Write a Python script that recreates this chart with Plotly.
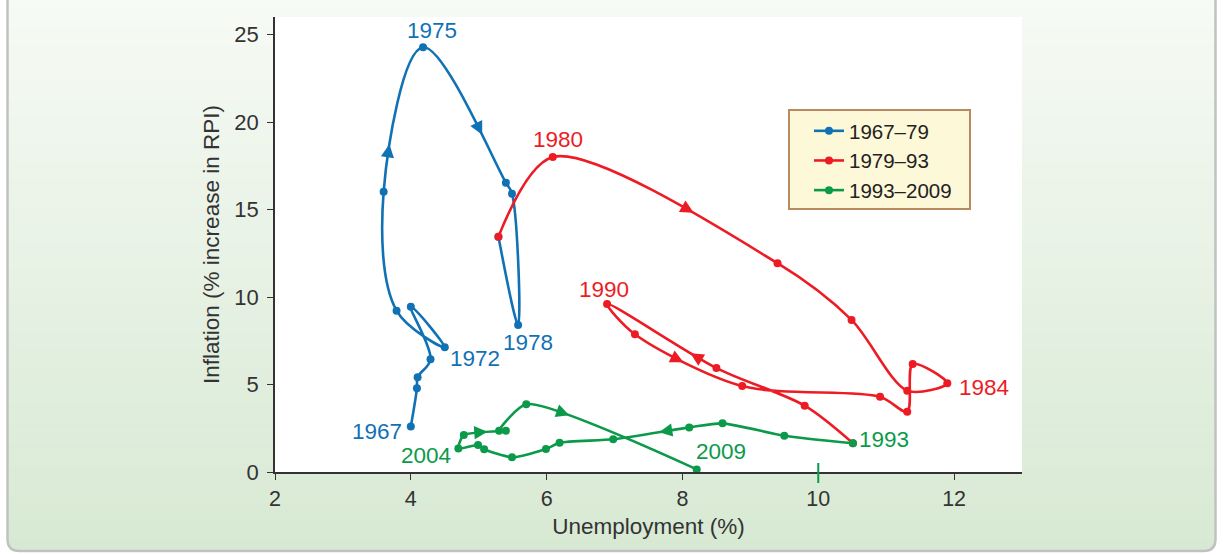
import plotly.graph_objects as go

# ---------------- data: unemployment (%) vs inflation (% increase in RPI) ----------------
unemp_6779 = [4.0, 4.09, 4.1, 4.29, 4.0, 4.5, 3.79, 3.6, 4.18, 5.4, 5.49, 5.58, 5.29]
infl_6779 = [2.6, 4.78, 5.41, 6.44, 9.45, 7.13, 9.22, 16.02, 24.27, 16.53, 15.9, 8.4, 13.45]

unemp_7993 = [5.29, 6.09, 9.4, 10.49, 11.31, 11.9, 11.39, 11.31, 10.91, 8.88, 7.3, 6.89, 8.5, 9.8, 10.51]
infl_7993 = [13.45, 18.0, 11.93, 8.69, 4.65, 5.07, 6.17, 3.45, 4.3, 4.91, 7.87, 9.6, 5.94, 3.79, 1.64]

unemp_9309 = [10.51, 9.5, 8.59, 8.1, 6.98, 6.19, 5.99, 5.49, 5.08, 4.99, 4.7, 4.78, 5.4, 5.3, 5.7, 8.21]
infl_9309 = [1.64, 2.07, 2.78, 2.55, 1.87, 1.67, 1.31, 0.84, 1.3, 1.54, 1.35, 2.11, 2.36, 2.36, 3.87, 0.15]

series_names = ["1967–79", "1979–93", "1993–2009"]
series_colors = ["#1071b5", "#ed1c24", "#0b9a4a"]
series_smoothing = [1.0, 0.85, 0.6]

# year labels: (series, point index, text)
year_labels = [
    (0, 0, "1967"), (0, 5, "1972"), (0, 8, "1975"), (0, 11, "1978"),
    (1, 1, "1980"), (1, 5, "1984"), (1, 11, "1990"),
    (2, 0, "1993"), (2, 10, "2004"), (2, 15, "2009"),
]

# direction arrows: (series, segment start index, position along segment, reversed)
path_arrows = [
    (0, 7, 0.26, False), (0, 8, 0.63, False),
    (1, 1, 0.60, False), (1, 9, 0.53, True), (1, 11, 0.80, True),
    (2, 11, 0.45, False), (2, 14, 0.42, False), (2, 3, 0.38, False),
]

x_ticks = [2, 4, 6, 8, 10, 12]
y_ticks = [0, 5, 10, 15, 20, 25]

# ---------------- geometry ----------------
W, H = 1223, 555
ML, MR, MT, MB = 275, 201, 17, 83
PW, PH = W - ML - MR, H - MT - MB
XR, YR = [2, 13], [0, 26]
FONT = "Liberation Sans, Arial, sans-serif"
INK = "#333333"

xs = [unemp_6779, unemp_7993, unemp_9309]
ys = [infl_6779, infl_7993, infl_9309]


def to_px(x, y):
    return ((x - XR[0]) / (XR[1] - XR[0]) * PW, (YR[1] - y) / (YR[1] - YR[0]) * PH)


def to_data(px, py):
    return (XR[0] + px / PW * (XR[1] - XR[0]), YR[1] - py / PH * (YR[1] - YR[0]))


def pxx(px):  # page pixel -> paper x
    return (px - ML) / PW


def pxy(py):  # page pixel -> paper y
    return (H - MB - py) / PH


def tangent(p0, p1, p2, s):
    # same control-point construction plotly uses for spline lines
    d1x, d1y = p0[0] - p1[0], p0[1] - p1[1]
    d2x, d2y = p2[0] - p1[0], p2[1] - p1[1]
    d1a = (d1x * d1x + d1y * d1y) ** 0.25
    d2a = (d2x * d2x + d2y * d2y) ** 0.25
    nx = (d2a * d2a * d1x - d1a * d1a * d2x) * s
    ny = (d2a * d2a * d1y - d1a * d1a * d2y) * s
    den1 = 3 * d2a * (d1a + d2a)
    den2 = 3 * d1a * (d1a + d2a)
    cin = (p1[0] + (nx / den1 if den1 else 0), p1[1] + (ny / den1 if den1 else 0))
    cout = (p1[0] - (nx / den2 if den2 else 0), p1[1] - (ny / den2 if den2 else 0))
    return cin, cout


def spline_point(k, i, t):
    pts = [to_px(a, b) for a, b in zip(xs[k], ys[k])]
    s = series_smoothing[k]
    tans = [tangent(pts[j - 1], pts[j], pts[j + 1], s) for j in range(1, len(pts) - 1)]
    p0, p3 = pts[i], pts[i + 1]
    if i == 0:
        ctrl = [p0, tans[0][0], p3]
    elif i == len(pts) - 2:
        ctrl = [p0, tans[-1][1], p3]
    else:
        ctrl = [p0, tans[i - 1][1], tans[i][0], p3]
    if len(ctrl) == 3:
        a, b, c = ctrl
        pos = [(1 - t) ** 2 * a[n] + 2 * (1 - t) * t * b[n] + t * t * c[n] for n in range(2)]
        der = [2 * (1 - t) * (b[n] - a[n]) + 2 * t * (c[n] - b[n]) for n in range(2)]
    else:
        a, b, c, d = ctrl
        pos = [(1 - t) ** 3 * a[n] + 3 * (1 - t) ** 2 * t * b[n] + 3 * (1 - t) * t * t * c[n] + t ** 3 * d[n]
               for n in range(2)]
        der = [3 * (1 - t) ** 2 * (b[n] - a[n]) + 6 * (1 - t) * t * (c[n] - b[n]) + 3 * t * t * (d[n] - c[n])
               for n in range(2)]
    return pos, der


fig = go.Figure()

for k in range(3):
    fig.add_trace(go.Scatter(
        x=xs[k], y=ys[k], name=series_names[k], mode="lines+markers",
        line=dict(color=series_colors[k], width=2.6, shape="spline",
                  smoothing=series_smoothing[k], simplify=False),
        marker=dict(color=series_colors[k], size=8),
        cliponaxis=False,
    ))

annotations = []

# arrowheads along the paths
for k, i, t, rev in path_arrows:
    pos, der = spline_point(k, i, t)
    n = (der[0] ** 2 + der[1] ** 2) ** 0.5
    ux, uy = der[0] / n, der[1] / n
    if rev:
        ux, uy = -ux, -uy
    tip = to_data(pos[0] + ux * 4, pos[1] + uy * 4)
    annotations.append(dict(
        x=tip[0], y=tip[1], xref="x", yref="y", text="", showarrow=True,
        ax=-ux * 9, ay=-uy * 9, arrowhead=2, arrowsize=1.1, arrowwidth=2.4,
        arrowcolor=series_colors[k], standoff=0, startstandoff=0,
    ))

label_style = {
    "1967": ("right", "middle", -7, -5),
    "1972": ("left", "middle", 3, -11),
    "1975": ("center", "bottom", 9, 2),
    "1978": ("center", "top", 10, -3),
    "1980": ("center", "bottom", 5, 3),
    "1984": ("left", "middle", 10, -4),
    "1990": ("center", "bottom", -3, 0),
    "1993": ("left", "middle", 4, 4),
    "2004": ("right", "middle", -5, -7),
    "2009": ("left", "bottom", -3, 3),
}
for k, i, txt in year_labels:
    xa, ya, dx, dy = label_style[txt]
    annotations.append(dict(
        x=xs[k][i], y=ys[k][i], xref="x", yref="y", text=txt, showarrow=False,
        xanchor=xa, yanchor=ya, xshift=dx, yshift=dy,
        font=dict(family=FONT, size=22.5, color=series_colors[k]),
    ))

# ---------------- panel background ----------------
shapes = []
top_c = (247, 250, 245)
bot_c = (215, 233, 211)
panel_l, panel_r, panel_b, radius = 7.5, 1215.5, 551, 12
n_strip = 60
strip_top, strip_bot = 0, panel_b - radius
for j in range(n_strip):
    y0 = strip_top + (strip_bot - strip_top) * j / n_strip
    y1 = strip_top + (strip_bot - strip_top) * (j + 1) / n_strip + 0.6
    f = (y0 + y1) / 2 / panel_b
    c = tuple(round(top_c[m] + (bot_c[m] - top_c[m]) * f) for m in range(3))
    shapes.append(dict(type="rect", xref="paper", yref="paper", layer="below",
                       x0=pxx(panel_l), x1=pxx(panel_r), y0=pxy(y0), y1=pxy(y1),
                       fillcolor="rgb(%d,%d,%d)" % c, line=dict(width=0)))


def ppath(cmds):
    out = []
    for c in cmds:
        if isinstance(c, str):
            out.append(c)
        else:
            out.append("%.5f,%.5f" % (pxx(c[0]), pxy(c[1])))
    return " ".join(out)


bottom_path = ppath(["M", (panel_l, strip_bot), "L", (panel_r, strip_bot), "L", (panel_r, panel_b - radius),
                     "Q", (panel_r, panel_b), (panel_r - radius, panel_b), "L", (panel_l + radius, panel_b),
                     "Q", (panel_l, panel_b), (panel_l, panel_b - radius), "Z"])
shapes.append(dict(type="path", xref="paper", yref="paper", layer="below", path=bottom_path,
                   fillcolor="rgb(%d,%d,%d)" % bot_c, line=dict(width=0)))
border_path = ppath(["M", (panel_l, -5), "L", (panel_l, panel_b - radius),
                     "Q", (panel_l, panel_b), (panel_l + radius, panel_b), "L", (panel_r - radius, panel_b),
                     "Q", (panel_r, panel_b), (panel_r, panel_b - radius), "L", (panel_r, -5)])
shapes.append(dict(type="path", xref="paper", yref="paper", layer="below", path=border_path,
                   line=dict(color="#bfc3bf", width=2.5)))
# white plotting field
shapes.append(dict(type="rect", xref="paper", yref="paper", layer="below",
                   x0=0, x1=1, y0=0, y1=1, fillcolor="white", line=dict(width=0)))
# legend box
shapes.append(dict(type="rect", xref="paper", yref="paper", layer="below",
                   x0=pxx(789), x1=pxx(970), y0=pxy(110), y1=pxy(209),
                   fillcolor="#fdf8d8", line=dict(color="#b88a60", width=2)))
# green tick on the x axis at 10
shapes.append(dict(type="line", xref="x", yref="paper", x0=10, x1=10,
                   y0=pxy(463), y1=pxy(483), line=dict(color=series_colors[2], width=2)))

fig.update_layout(
    width=W, height=H,
    margin=dict(l=ML, r=MR, t=MT, b=MB, pad=0),
    paper_bgcolor="white", plot_bgcolor="rgba(0,0,0,0)",
    font=dict(family=FONT, color=INK),
    showlegend=True,
    legend=dict(x=pxx(809), y=pxy(111), xanchor="left", yanchor="top",
                bgcolor="rgba(0,0,0,0)", borderwidth=0,
                font=dict(family=FONT, size=20.5, color="#222222"), tracegroupgap=0),
    shapes=shapes,
    annotations=annotations,
    xaxis=dict(range=XR, tickvals=x_ticks, showgrid=False, zeroline=False,
               showline=True, linecolor=INK, linewidth=1.5,
               ticks="outside", ticklen=6, tickcolor=INK, tickwidth=1.3,
               tickfont=dict(family=FONT, size=21.5, color=INK),
               title=dict(text="Unemployment (%)", font=dict(family=FONT, size=22.5, color=INK), standoff=9)),
    yaxis=dict(range=YR, tickvals=y_ticks, showgrid=False, zeroline=False,
               showline=True, linecolor=INK, linewidth=1.5,
               ticks="outside", ticklen=6, tickcolor=INK, tickwidth=1.3,
               ticklabelstandoff=4,
               tickfont=dict(family=FONT, size=22, color=INK),
               title=dict(text="Inflation (% increase in RPI)", font=dict(family=FONT, size=22.5, color=INK),
                          standoff=8)),
)

fig.write_html("out.html")
